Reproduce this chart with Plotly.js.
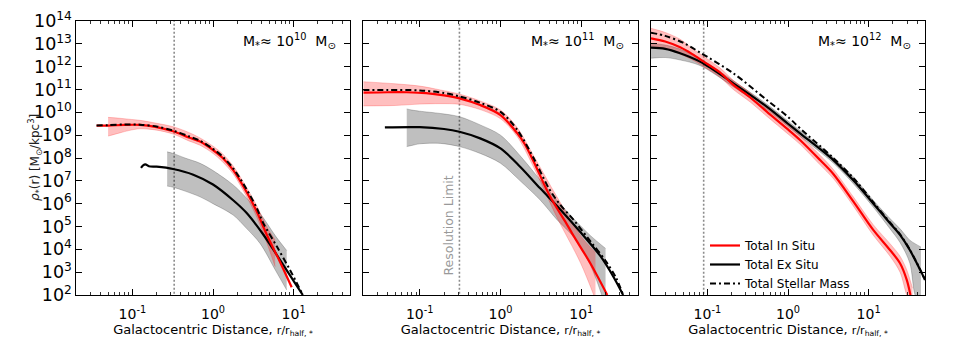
<!DOCTYPE html>
<html><head><meta charset="utf-8">
<script src="https://cdn.plot.ly/plotly-3.0.1.min.js"></script>
<style>html,body{margin:0;padding:0;background:#fff}#chart{width:954px;height:347px}</style>
</head><body><div id="chart"></div>
<script>
// ---- Data (x = r/r_half, y given as log10 of rho_* in Msun/kpc^3) ----
// Panel 1: M* ~ 1e10
var p1InX = [0.036,0.05,0.08,0.124,0.2,0.32,0.5,0.69,1.0,1.3,1.78,2.62,3.5,4.63,6.76,9.46];
var p1InLog = [9.42,9.42,9.45,9.45,9.35,9.17,8.9,8.72,8.35,8.02,7.47,6.5,5.65,4.65,3.46,2.34];
var p1InBandX = [0.05,0.07,0.09,0.124,0.2,0.32,0.5,0.69,1.0,1.3,1.78,2.62,3.5,4.63,5.9];
var p1InHiLog = [9.78,9.74,9.7,9.65,9.52,9.37,9.12,8.88,8.52,8.2,7.65,6.7,5.9,5.0,4.4];
var p1InLoLog = [8.96,9.1,9.2,9.28,9.22,9.05,8.75,8.56,8.2,7.85,7.3,6.3,5.4,4.3,3.24];
var p1ExX = [0.128,0.136,0.145,0.16,0.2,0.32,0.57,1.0,1.78,2.6,4.2,6.2,8.5,10.5,13.0];
var p1ExLog = [7.57,7.68,7.72,7.64,7.62,7.52,7.27,6.84,6.15,5.6,4.65,3.75,3.0,2.5,2.0];
var p1ExBandX = [0.27,0.32,0.45,0.69,1.0,1.78,2.6,3.83,6.0,8.2];
var p1ExHiLog = [8.27,8.2,8.0,7.77,7.45,6.82,6.25,5.58,4.57,3.95];
var p1ExLoLog = [6.77,6.72,6.55,6.3,6.0,5.5,4.92,4.26,3.06,2.22];
var p1TotX = [0.036,0.05,0.08,0.124,0.2,0.32,0.5,0.69,1.0,1.3,1.78,2.62,3.5,4.2,6.2,9.0,12.6];
var p1TotLog = [9.42,9.44,9.47,9.46,9.38,9.2,8.95,8.76,8.4,8.08,7.55,6.62,5.8,5.15,4.12,3.1,2.1];

// Panel 2: M* ~ 1e11
var p2InX = [0.02,0.04,0.069,0.12,0.2,0.31,0.56,1.0,1.6,2.0,2.57,4.13,6.5,8.0,12.9,21];
var p2InLog = [10.86,10.88,10.88,10.84,10.74,10.61,10.32,9.88,9.1,8.6,7.85,6.3,5.15,4.6,3.4,2.0];
var p2InBandX = [0.02,0.05,0.1,0.18,0.31,0.56,1.0,1.6,2.57,5.0,9.8,15];
var p2InHiLog = [11.34,11.25,11.15,10.98,10.8,10.5,10.1,9.35,8.1,6.3,4.6,3.85];
var p2InLoLog = [10.28,10.3,10.36,10.38,10.35,10.12,9.72,8.95,7.6,5.4,3.4,1.8];
var p2ExX = [0.037,0.1,0.2,0.31,0.56,1.0,1.75,3.1,5.5,9.8,17.3,25,33];
var p2ExLog = [9.34,9.35,9.27,9.15,8.86,8.42,7.62,6.67,5.75,4.75,3.7,2.8,2.0];
var p2ExBandX = [0.069,0.08,0.1,0.18,0.31,0.56,1.0,1.75,3.1,5.0,8.0,13,20];
var p2ExHiLog = [10.15,10.1,10.05,9.95,9.81,9.45,9.0,8.1,7.04,6.15,5.35,4.6,4.04];
var p2ExLoLog = [8.5,8.55,8.62,8.64,8.5,8.2,7.77,7.0,6.16,5.3,4.55,3.3,1.5];
var p2TotX = [0.02,0.04,0.1,0.2,0.31,0.56,1.0,1.6,2.57,4.0,5.5,8.0,13,20,27,33];
var p2TotLog = [10.98,10.98,10.96,10.85,10.7,10.42,10.02,9.25,8.0,6.65,5.95,5.3,4.35,3.5,2.75,2.0];

// Panel 3: M* ~ 1e12
var p3InX = [0.02,0.03,0.046,0.065,0.09,0.143,0.21,0.34,0.545,1.0,1.41,2.5,3.65,6.45,11.4,18.4,24.5,29.7,33];
var p3InLog = [13.24,13.1,12.85,12.55,12.22,11.75,11.2,10.65,10.03,9.25,8.79,7.91,7.3,6.1,4.85,3.97,3.39,2.66,2.0];
var p3InBandX = [0.02,0.03,0.046,0.065,0.09,0.143,0.21,0.34,0.545,1.0,1.41,2.5,3.65,6.45,11.4,18.4,24.5,29.7,35];
var p3InHiLog = [13.68,13.5,13.2,12.8,12.45,11.95,11.4,10.85,10.22,9.45,8.97,8.12,7.5,6.3,5.08,4.25,3.7,3.1,2.3];
var p3InLoLog = [12.9,12.8,12.55,12.3,12.0,11.55,11.0,10.45,9.83,9.05,8.6,7.7,7.1,5.9,4.62,3.7,3.0,2.0,1.5];
var p3ExX = [0.02,0.03,0.045,0.081,0.21,0.545,1.0,1.41,3.65,6.76,11.4,18.4,24.5,32.4,43.6,50];
var p3ExLog = [12.83,12.78,12.6,12.22,11.27,10.25,9.5,9.08,7.91,6.95,6.01,5.14,4.63,3.97,3.1,2.66];
var p3ExBandX = [0.02,0.03,0.045,0.081,0.21,0.545,1.0,1.41,3.65,6.76,11.4,18.4,24.5,32.4,37.6,44.5];
var p3ExHiLog = [13.02,12.95,12.78,12.35,11.38,10.36,9.62,9.2,8.02,7.1,6.15,5.35,4.9,4.4,4.25,4.1];
var p3ExLoLog = [12.37,12.4,12.3,12.05,11.12,10.12,9.38,8.95,7.78,6.8,5.85,4.9,4.3,3.4,2.0,1.5];
var p3TotX = [0.02,0.03,0.05,0.081,0.21,0.545,1.0,1.41,3.65,6.76,11.4,18.4,24.5,32.4,43.6,50];
var p3TotLog = [13.49,13.35,13.05,12.62,11.71,10.54,9.8,9.3,8.0,7.05,6.07,5.18,4.66,3.99,3.11,2.67];

var resolutionLimit = [0.33, 0.31, 0.09];
var massLabels = ['10<sup>10</sup>', '10<sup>11</sup>', '10<sup>12</sup>'];
var seriesNames = ['Total In Situ', 'Total Ex Situ', 'Total Stellar Mass'];
var xTickVals = [0.1, 1, 10];
var xTickText = ['10<sup>-1</sup>', '10<sup>0</sup>', '10<sup>1</sup>'];

// ---- build ----
function pw(a){ return a.map(function(v){ return Math.pow(10, v); }); }
var panels = [
  {inX:p1InX,inY:p1InLog,inBX:p1InBandX,inHi:p1InHiLog,inLo:p1InLoLog,exX:p1ExX,exY:p1ExLog,exBX:p1ExBandX,exHi:p1ExHiLog,exLo:p1ExLoLog,totX:p1TotX,totY:p1TotLog},
  {inX:p2InX,inY:p2InLog,inBX:p2InBandX,inHi:p2InHiLog,inLo:p2InLoLog,exX:p2ExX,exY:p2ExLog,exBX:p2ExBandX,exHi:p2ExHiLog,exLo:p2ExLoLog,totX:p2TotX,totY:p2TotLog},
  {inX:p3InX,inY:p3InLog,inBX:p3InBandX,inHi:p3InHiLog,inLo:p3InLoLog,exX:p3ExX,exY:p3ExLog,exBX:p3ExBandX,exHi:p3ExHiLog,exLo:p3ExLoLog,totX:p3TotX,totY:p3TotLog}
];
var FONT = 'DejaVu Sans, Bitstream Vera Sans, sans-serif';
var SM = 0.9;
var traces = [];
panels.forEach(function(p, i){
  var xa = i === 0 ? 'x' : 'x' + (i+1), ya = i === 0 ? 'y' : 'y' + (i+1);
  var leg = (i === 2);
  traces.push({x:[resolutionLimit[i], resolutionLimit[i]], y:[1e1, 1e15], xaxis:xa, yaxis:ya, mode:'lines',
    line:{color:'#8c8c8c', width:1.6, dash:'2px,2px'}, showlegend:false, hoverinfo:'skip'});
  traces.push({x:p.exBX, y:pw(p.exLo), xaxis:xa, yaxis:ya, mode:'lines', line:{color:'rgba(0,0,0,0.3)', width:0.7, shape:'spline', smoothing:SM}, showlegend:false, hoverinfo:'skip'});
  traces.push({x:p.exBX, y:pw(p.exHi), xaxis:xa, yaxis:ya, mode:'lines', fill:'tonexty', fillcolor:'rgba(0,0,0,0.25)', line:{color:'rgba(0,0,0,0.3)', width:0.7, shape:'spline', smoothing:SM}, showlegend:false, hoverinfo:'skip'});
  traces.push({x:p.inBX, y:pw(p.inLo), xaxis:xa, yaxis:ya, mode:'lines', line:{color:'rgba(255,0,0,0.3)', width:0.7, shape:'spline', smoothing:SM}, showlegend:false, hoverinfo:'skip'});
  traces.push({x:p.inBX, y:pw(p.inHi), xaxis:xa, yaxis:ya, mode:'lines', fill:'tonexty', fillcolor:'rgba(255,0,0,0.25)', line:{color:'rgba(255,0,0,0.3)', width:0.7, shape:'spline', smoothing:SM}, showlegend:false, hoverinfo:'skip'});
  traces.push({x:p.exX, y:pw(p.exY), xaxis:xa, yaxis:ya, mode:'lines', name:seriesNames[1], legendrank:2,
    line:{color:'#000000', width:2.2, shape:'spline', smoothing:SM}, showlegend:leg});
  traces.push({x:p.inX, y:pw(p.inY), xaxis:xa, yaxis:ya, mode:'lines', name:seriesNames[0], legendrank:1,
    line:{color:'#ff0000', width:2.2, shape:'spline', smoothing:SM}, showlegend:leg});
  traces.push({x:p.totX, y:pw(p.totY), xaxis:xa, yaxis:ya, mode:'lines', name:seriesNames[2], legendrank:3,
    line:{color:'#000000', width:2, dash:'6px,3px,2px,3px', shape:'spline', smoothing:SM}, showlegend:leg});
});

var minorVals = [];
[0.01, 0.1, 1, 10].forEach(function(d){ for (var k = 2; k <= 9; k++) minorVals.push(d*k); });

var W = 954, H = 347;
var xd = [[76,350],[363.3,637.7],[651,925]];
var yDom = [(H-295)/H, (H-21)/H];
function xAxis(i){
  return {domain:[xd[i][0]/W, xd[i][1]/W], anchor: i===0?'y':'y'+(i+1), type:'log', range:[Math.log10(0.02), Math.log10(50)],
    tickmode:'array', tickvals:xTickVals, ticktext:xTickText, ticks:'inside', ticklen:6, tickwidth:1, tickcolor:'#000',
    ticklabelstandoff:6,
    minor:{tickmode:'array', tickvals:minorVals, ticks:'inside', ticklen:3, tickwidth:0.8, tickcolor:'#000', showgrid:false},
    showline:true, linecolor:'#000', linewidth:1.3, mirror:'ticks', showgrid:false, zeroline:false,
    tickfont:{family:FONT, size:14, color:'#000'},
    title:{text:'Galactocentric Distance, <span style="font-size:11px">r/r<sub>half, *</sub></span>', font:{family:FONT, size:13, color:'#000'}, standoff:0}};
}
function yAxis(i){
  return {domain:yDom, anchor: i===0?'x':'x'+(i+1), type:'log', range:[2,14], dtick:1, exponentformat:'power',
    ticks:'inside', ticklen:6, tickwidth:1, tickcolor:'#000', showticklabels: i===0,
    showline:true, linecolor:'#000', linewidth:1.3, mirror:'ticks', showgrid:false, zeroline:false,
    tickfont:{family:FONT, size:14, color:'#000'}};
}
var annotations = [];
for (var i = 0; i < 3; i++) {
  annotations.push({xref:(i===0?'x':'x'+(i+1))+' domain', yref:(i===0?'y':'y'+(i+1))+' domain', x:1, y:1, xanchor:'right', yanchor:'top',
    xshift:-12, yshift:-8, showarrow:false, text:'M<sub>*</sub>≈ ' + massLabels[i] + '  M<sub>⊙</sub>', font:{family:FONT, size:14, color:'#000'}});
}
annotations.push({xref:'x2', yref:'y2', x:Math.log10(resolutionLimit[1]), y:5.06, xanchor:'center', yanchor:'middle', xshift:-11,
  textangle:-90, showarrow:false, text:'Resolution Limit', font:{family:FONT, size:12.5, color:'#999999'}});
annotations.push({xref:'paper', yref:'paper', x:35/W, y:(H-158)/H, xanchor:'center', yanchor:'middle', textangle:-90, showarrow:false,
  text:'<i>ρ</i><sub>*</sub>(r) [M<sub>⊙</sub>/kpc<sup>3</sup>]', font:{family:FONT, size:12, color:'#222'}});

var layout = {
  width:W, height:H, margin:{l:0,r:0,t:0,b:0}, paper_bgcolor:'#fff', plot_bgcolor:'#fff',
  font:{family:FONT, color:'#000'},
  xaxis:xAxis(0), xaxis2:xAxis(1), xaxis3:xAxis(2),
  yaxis:yAxis(0), yaxis2:yAxis(1), yaxis3:yAxis(2),
  showlegend:true,
  legend:{x:705/W, y:(H-231)/H, xanchor:'left', yanchor:'top', bgcolor:'rgba(0,0,0,0)', borderwidth:0,
    font:{family:FONT, size:12, color:'#000'}, itemwidth:30, tracegroupgap:0, traceorder:'normal'},
  annotations:annotations
};
Plotly.newPlot('chart', traces, layout, {staticPlot:true, displayModeBar:false});
</script></body></html>
